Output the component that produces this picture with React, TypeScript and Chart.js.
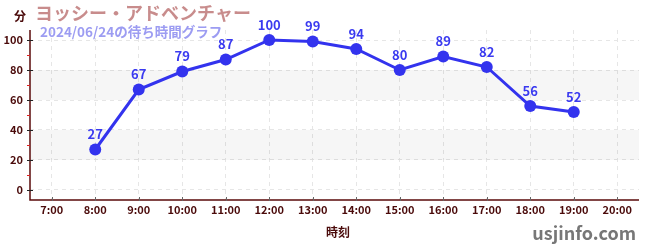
import React, { useEffect, useRef } from "react";
import { Chart, registerables } from "chart.js";

Chart.register(...registerables);

const categories = ["7:00", "8:00", "9:00", "10:00", "11:00", "12:00", "13:00", "14:00", "15:00", "16:00", "17:00", "18:00", "19:00", "20:00"];
const waitTimes: (number | null)[] = [null, 27, 67, 79, 87, 100, 99, 94, 80, 89, 82, 56, 52, null];
const yTicks = [0, 20, 40, 60, 80, 100];
const minorTicks = [10, 30, 50, 70, 90];
const bands = [[20, 40], [60, 80]];
const titleText = "ヨッシー・アドベンチャー";
const subtitleText = "2024/06/24の待ち時間グラフ";
const yUnit = "分";
const xTitle = "時刻";
const siteText = "usjinfo.com";

const FONT = "'Noto Sans CJK JP', 'Noto Sans', sans-serif";
const MAROON = "#4a0a0a";

export default function App() {
  const ref = useRef<HTMLCanvasElement>(null);
  useEffect(() => {
    const extras = {
      id: "extras",
      beforeDatasetsDraw(chart: any) {
        const { ctx, chartArea, scales } = chart;
        const y = scales.y;
        ctx.save();
        ctx.fillStyle = "rgba(0,0,0,0.035)";
        for (const [a, b] of bands) {
          const y1 = y.getPixelForValue(b);
          const y2 = y.getPixelForValue(a);
          ctx.fillRect(chartArea.left, y1, chartArea.right - chartArea.left, y2 - y1);
        }
        ctx.restore();
      },
      afterDraw(chart: any) {
        const { ctx, chartArea, scales } = chart;
        const y = scales.y;
        const x = scales.x;
        ctx.save();
        ctx.setLineDash([]);
        ctx.strokeStyle = "#5a0a0a";
        ctx.lineWidth = 1.5;
        ctx.beginPath();
        ctx.moveTo(chartArea.left, chartArea.top);
        ctx.lineTo(chartArea.left, chartArea.bottom);
        ctx.lineTo(chartArea.right, chartArea.bottom);
        ctx.stroke();
        ctx.strokeStyle = "#222";
        ctx.lineWidth = 1;
        for (const v of yTicks) {
          const py = Math.round(y.getPixelForValue(v)) + 0.5;
          ctx.beginPath();
          ctx.moveTo(chartArea.left - 3, py);
          ctx.lineTo(chartArea.left + 3, py);
          ctx.stroke();
        }
        ctx.strokeStyle = "#e02020";
        for (const v of minorTicks) {
          const py = Math.round(y.getPixelForValue(v)) + 0.5;
          ctx.beginPath();
          ctx.moveTo(chartArea.left - 3, py);
          ctx.lineTo(chartArea.left, py);
          ctx.stroke();
        }
        ctx.strokeStyle = "#666";
        for (let i = 0; i < categories.length; i++) {
          const px = Math.round(x.getPixelForValue(i)) + 0.5;
          ctx.beginPath();
          ctx.moveTo(px, chartArea.bottom - 3);
          ctx.lineTo(px, chartArea.bottom + 1);
          ctx.stroke();
        }
        const meta = chart.getDatasetMeta(0);
        ctx.fillStyle = "#3a3af0";
        ctx.font = `bold 13px ${FONT}`;
        ctx.textAlign = "center";
        ctx.textBaseline = "middle";
        meta.data.forEach((pt: any, i: number) => {
          const v = waitTimes[i];
          if (v == null) return;
          ctx.fillText(String(v), pt.x, pt.y - 15);
        });
        ctx.textAlign = "left";
        ctx.fillStyle = "rgba(190,120,120,0.85)";
        ctx.font = `bold 18px ${FONT}`;
        ctx.fillText(titleText, 35, 13);
        ctx.fillStyle = "#9c9cf2";
        ctx.font = `bold 13.5px ${FONT}`;
        ctx.fillText(subtitleText, 40, 32);
        ctx.fillStyle = MAROON;
        ctx.font = `bold 12px ${FONT}`;
        ctx.fillText(yUnit, 14, 16);
        ctx.textAlign = "center";
        ctx.fillText(xTitle, 338, 232);
        ctx.textAlign = "right";
        ctx.fillStyle = "#777";
        ctx.font = `bold 18px ${FONT}`;
        ctx.fillText(siteText, 636, 233);
        ctx.restore();
      },
    };
    const chart = new Chart(ref.current!, {
      type: "line",
      data: {
        labels: categories,
        datasets: [
          {
            data: waitTimes,
            borderColor: "#3333ee",
            backgroundColor: "#3333ee",
            borderWidth: 3,
            pointRadius: 6,
            pointHoverRadius: 6,
            pointBackgroundColor: "#3333ee",
            pointBorderWidth: 0,
            tension: 0,
          },
        ],
      },
      options: {
        animation: false,
        responsive: false,
        events: [],
        layout: { padding: { top: 30, right: 11, left: 0, bottom: 0 } },
        plugins: { legend: { display: false }, tooltip: { enabled: false } },
        scales: {
          x: {
            offset: true,
            grid: { offset: false, color: "#e6e6e6", drawTicks: false, tickLength: 0 },
            border: { display: false, dash: [4, 4] },
            ticks: { color: MAROON, font: { family: FONT, size: 11, weight: "bold" }, padding: 3, maxRotation: 0, autoSkip: false },
            afterFit(s: any) { s.height = 50; },
          },
          y: {
            min: -6.67,
            max: 106.67,
            afterBuildTicks(s: any) { s.ticks = yTicks.map((v) => ({ value: v })); },
            grid: { color: "#e6e6e6", drawTicks: false, tickLength: 0 },
            border: { display: false, dash: [4, 4] },
            ticks: { color: MAROON, font: { family: FONT, size: 11, weight: "bold" }, padding: 7 },
            afterFit(s: any) { s.width = 30; },
          },
        },
      },
      plugins: [extras],
    } as any);
    return () => chart.destroy();
  }, []);
  return (
    <div style={{ position: "fixed", left: 0, top: 0, width: 650, height: 250, background: "#fff" }}>
      <canvas ref={ref} width={650} height={250} style={{ width: 650, height: 250 }} />
    </div>
  );
}
